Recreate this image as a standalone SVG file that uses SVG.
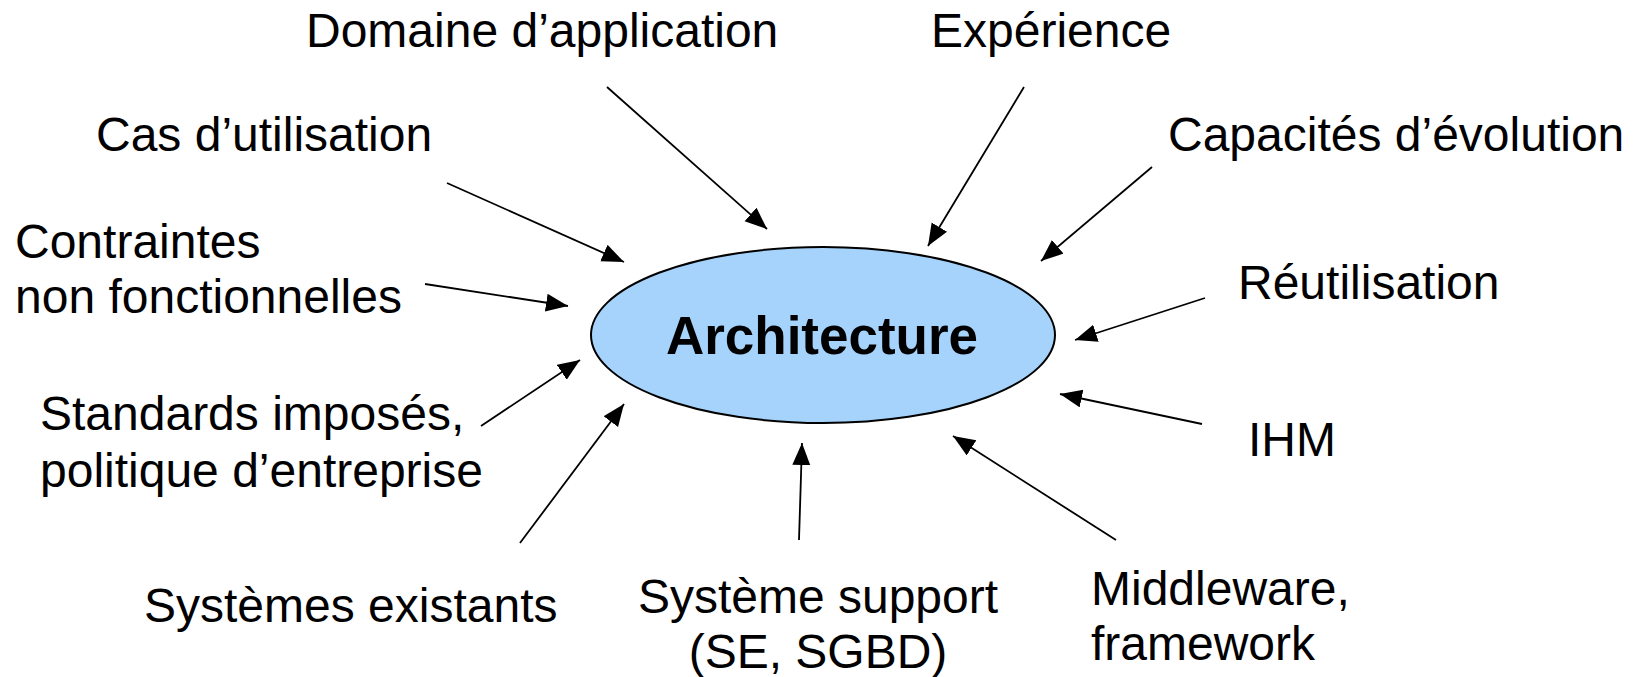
<svg xmlns="http://www.w3.org/2000/svg" width="1636" height="677" viewBox="0 0 1636 677">
<style>
.t{font-family:"Liberation Sans",Arial,sans-serif;font-size:48px;fill:#000}
.b{font-family:"Liberation Sans",Arial,sans-serif;font-size:53px;font-weight:bold;fill:#000}
.c{stroke:#000;stroke-width:1.8;fill:none;marker-end:url(#ah)}
</style>
<defs>
<marker id="ah" markerUnits="userSpaceOnUse" markerWidth="24" markerHeight="20" refX="22" refY="9" orient="auto">
<path d="M0,0 L22,9 L0,18 z" fill="#000"/>
</marker>
</defs>
<rect width="1636" height="677" fill="#fff"/>
<g id="architecture">
<ellipse cx="823" cy="335" rx="232" ry="88" fill="#a6d3fb" stroke="#000" stroke-width="2"/>
<text class="b" x="822" y="354" text-anchor="middle">Architecture</text>
</g>
<g id="domaine"><text class="t" x="306" y="47">Domaine d’application</text></g>
<g id="experience"><text class="t" x="931" y="47">Expérience</text></g>
<g id="cas"><text class="t" x="96" y="151">Cas d’utilisation</text></g>
<g id="capacites"><text class="t" x="1168" y="151">Capacités d’évolution</text></g>
<g id="contraintes"><text class="t" x="15" y="258">Contraintes</text><text class="t" x="15" y="313">non fonctionnelles</text></g>
<g id="reutilisation"><text class="t" x="1238" y="299">Réutilisation</text></g>
<g id="standards"><text class="t" x="40" y="430">Standards imposés,</text><text class="t" x="40" y="487">politique d’entreprise</text></g>
<g id="ihm"><text class="t" x="1248" y="456">IHM</text></g>
<g id="existants"><text class="t" x="144" y="622">Systèmes existants</text></g>
<g id="support"><text class="t" x="818" y="613" text-anchor="middle">Système support</text><text class="t" x="818" y="668" text-anchor="middle">(SE, SGBD)</text></g>
<g id="middleware"><text class="t" x="1091" y="605">Middleware,</text><text class="t" x="1091" y="660">framework</text></g>
<g id="connectors">
<line class="c" x1="607" y1="87" x2="767" y2="229"/>
<line class="c" x1="1024" y1="87" x2="928" y2="246"/>
<line class="c" x1="447" y1="183" x2="624" y2="262"/>
<line class="c" x1="1152" y1="167" x2="1041" y2="261"/>
<line class="c" x1="425" y1="284" x2="568" y2="306"/>
<line class="c" x1="1205" y1="298" x2="1075" y2="340"/>
<line class="c" x1="481" y1="426" x2="580" y2="360"/>
<line class="c" x1="1202" y1="424" x2="1060" y2="394"/>
<line class="c" x1="520" y1="543" x2="624" y2="404"/>
<line class="c" x1="799" y1="540" x2="802" y2="443"/>
<line class="c" x1="1116" y1="540" x2="953" y2="436"/>
</g>
</svg>
